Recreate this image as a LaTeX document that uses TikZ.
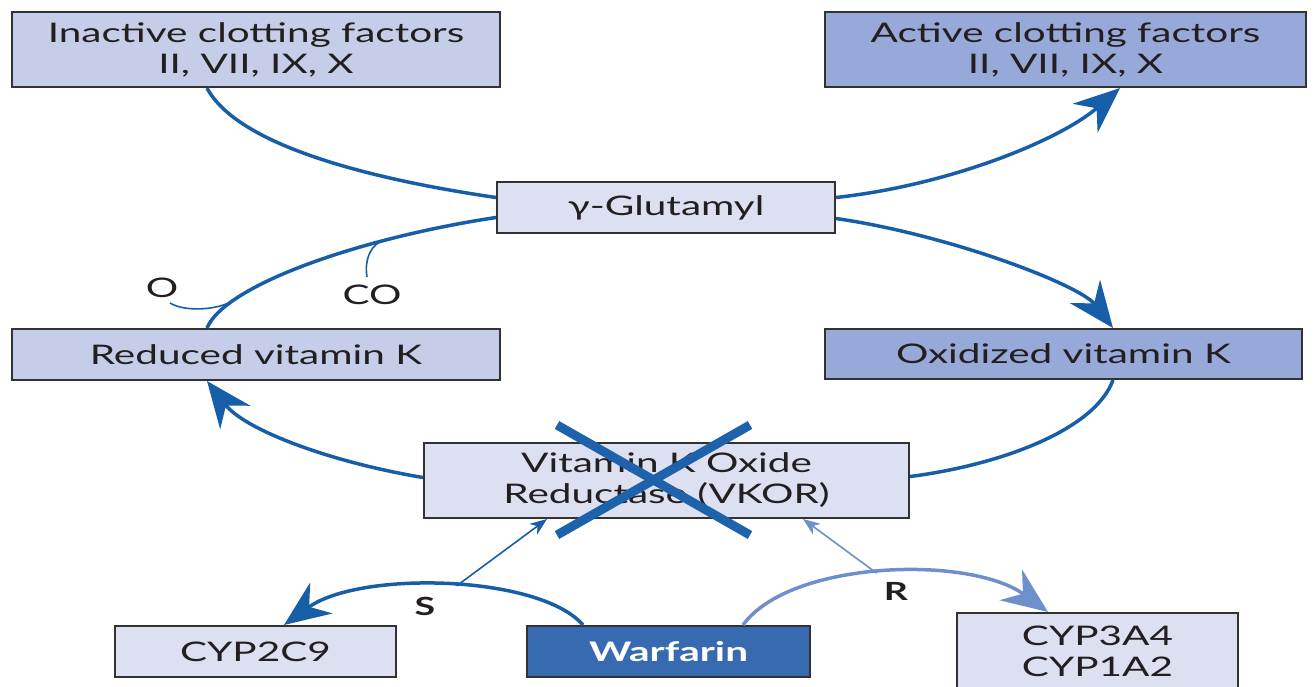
\documentclass[tikz,border=0pt]{standalone}
\usepackage{fontspec}
\setmainfont{Lato}[FakeStretch=1.5]
\usetikzlibrary{arrows.meta}
\definecolor{lineblue}{RGB}{22,94,168}
\definecolor{lightline}{RGB}{111,143,204}
\definecolor{crossblue}{RGB}{30,98,172}
\definecolor{fillmid}{RGB}{197,205,233}
\definecolor{filllight}{RGB}{220,224,241}
\definecolor{filldark}{RGB}{151,169,216}
\definecolor{fillwarf}{RGB}{56,106,178}
\definecolor{boxline}{RGB}{50,50,50}
\definecolor{txt}{RGB}{35,31,32}
\tikzset{
  box/.style={draw=boxline, line width=2pt, inner sep=0pt, align=center,
    font=\fontsize{27}{31}\selectfont, text=txt},
  midbox/.style={box, fill=fillmid},
  lightbox/.style={box, fill=filllight},
  darkbox/.style={box, fill=filldark},
  warfbox/.style={box, fill=fillwarf, text=white, font=\fontsize{27}{31}\selectfont\bfseries},
  conn/.style={draw=lineblue, line width=3.5pt},
  lightconn/.style={draw=lightline, line width=3.5pt},
  bigtip/.style={-{Stealth[length=46pt,width=38pt,inset=15pt]}},
  thinconn/.style={draw=lineblue, line width=1.6pt},
  thintip/.style={-{Stealth[length=17pt,width=13pt,inset=5pt]}},
  lbl/.style={inner sep=0pt, text=txt, font=\fontsize{27}{31}\selectfont},
  blbl/.style={lbl, font=\fontsize{25}{31}\selectfont\bfseries},
  crossline/.style={draw=crossblue, line width=9pt}
}
\begin{document}
\begin{tikzpicture}[x=1pt,y=-1pt]
\useasboundingbox (0,0) rectangle (1314,686);
\clip (0,0) rectangle (1314,686);
\fill[white] (0,0) rectangle (1314,686);

% boxes
\node[midbox, minimum width=488pt, minimum height=75pt] (inact) at (256,49.5) {Inactive clotting factors\\II, VII, IX, X};
\node[darkbox, minimum width=481pt, minimum height=75pt] (act) at (1065.5,49.5) {Active clotting factors\\II, VII, IX, X};
\node[lightbox, minimum width=338pt, minimum height=51pt] (glu) at (666,207.5) {γ-Glutamyl};
\node[midbox, minimum width=488pt, minimum height=51pt] (red) at (256,354.5) {Reduced vitamin K};
\node[darkbox, minimum width=477pt, minimum height=50pt] (oxi) at (1063.5,354) {Oxidized vitamin K};
\node[lightbox, minimum width=485pt, minimum height=75pt] (vkor) at (666.5,480.5) {Vitamin K Oxide\\Reductase (VKOR)};
\node[lightbox, minimum width=281pt, minimum height=51pt] (cyp2) at (255.5,651.5) {CYP2C9};
\node[warfbox, minimum width=283pt, minimum height=51pt] (warf) at (668.5,651.5) {Warfarin};
\node[lightbox, minimum width=281pt, minimum height=77pt] (cyp3) at (1097.5,651.5) {CYP3A4\\CYP1A2};

% labels
\node[lbl] (Olab) at (162,288) {O};
\node[lbl] (COlab) at (372,295) {CO};
\node[blbl] (Slab) at (425,606) {S};
\node[blbl] (Rlab) at (896,591) {R};

% cycle connectors
\draw[conn] ([xshift=-49pt]inact.south) .. controls (240,150) and (390,182) .. ([yshift=10pt]glu.west);
\draw[conn,bigtip] ([yshift=10pt]glu.east) .. controls (950,185) and (1060,140) .. ([xshift=54.5pt]act.south);
\draw[conn,bigtip] ([yshift=-11pt]glu.east) .. controls (950,235) and (1080,285) .. ([xshift=49.5pt]oxi.north);
\draw[conn] ([xshift=49.5pt]oxi.south) .. controls (1095,430) and (1000,465) .. ([yshift=4pt]vkor.east);
\draw[conn,bigtip] ([yshift=3pt]vkor.west) .. controls (330,462) and (245,430) .. ([xshift=-49pt]red.south);
\draw[conn] ([xshift=-49pt]red.north) .. controls (225,285) and (360,238) .. coordinate[pos=0.2] (jO) coordinate[pos=0.72] (jCO) ([yshift=-10pt]glu.west);

% O and CO side branches
\coordinate (Oend) at (170,303);
\coordinate (COend) at (367,277);
\draw[thinconn] (Oend) .. controls (185,312) and (215,310) .. (jO);
\draw[thinconn] (jCO) .. controls (372,243) and (364,258) .. (COend);

% cross over VKOR
\draw[crossline] (557,425) -- (750,535);
\draw[crossline] (750,425) -- (557,535);

% warfarin enantiomers
\draw[conn,bigtip] ([xshift=-85.5pt]warf.north) .. controls (540,575) and (360,570) .. coordinate[pos=0.47] (sJ) ([xshift=28.5pt]cyp2.north);
\draw[lightconn,bigtip] ([xshift=74.5pt]warf.north) .. controls (790,560) and (970,555) .. coordinate[pos=0.48] (rJ) ([xshift=-49.5pt]cyp3.north);
\draw[thinconn,thintip] (sJ) -- ([xshift=-119.5pt]vkor.south);
\draw[thinconn,draw=lightline,thintip] (rJ) -- ([xshift=136.5pt]vkor.south);
\end{tikzpicture}
\end{document}
